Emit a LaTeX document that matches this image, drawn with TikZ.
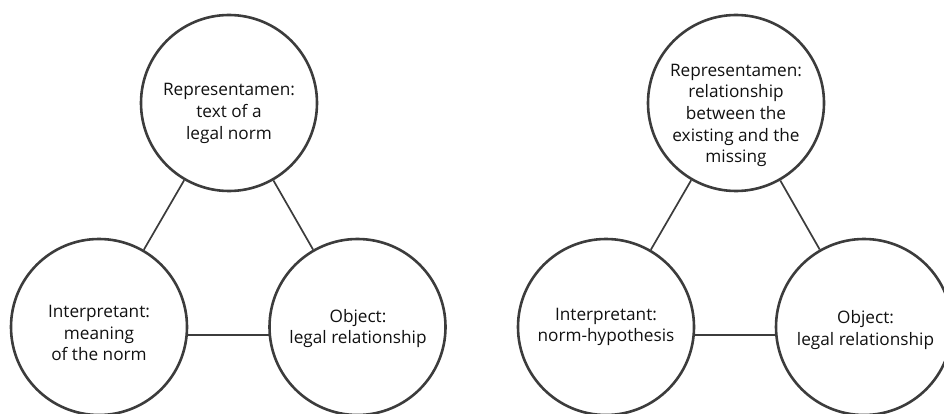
\documentclass[tikz,border=0pt]{standalone}
\usepackage{fontspec}
\setmainfont{Open Sans}
\begin{document}
\begin{tikzpicture}[x=1pt,y=-1pt,
  circ/.style={circle,draw=ringgray,line width=2.6pt,minimum size=176pt,inner sep=0pt},
  lbl/.style={align=center,inner sep=0pt,text=textgray,font=\fontsize{17.2pt}{21.6pt}\selectfont},
  link/.style={draw=ringgray,line width=1.7pt}]
\definecolor{ringgray}{HTML}{3C3C3C}
\definecolor{textgray}{HTML}{111111}
\useasboundingbox (0,0) rectangle (944,414);
% left diagram
\node[circ] (rA) at (229,103) {};
\node[circ] (iA) at (99,327) {};
\node[circ] (oA) at (357.5,327) {};
\node[lbl] (rAt) at (229,113.4) {Representamen:\\text of a\\legal norm};
\node[lbl] (iAt) at (99,333.3) {Interpretant:\\meaning\\of the norm};
\node[lbl] (oAt) at (358,328.5) {Object:\\legal relationship};
\draw[link] (rA) -- (iA);
\draw[link] (rA) -- (oA);
\draw[link] (iA.-5.2) -- (oA.185.2);
% right diagram
\node[circ] (rB) at (736,103) {};
\node[circ] (iB) at (606,327) {};
\node[circ] (oB) at (864,327) {};
\node[lbl] (rBt) at (736,115.4) {Representamen:\\relationship\\between the\\existing and the\\missing};
\node[lbl] (iBt) at (606,327) {Interpretant:\\norm-hypothesis};
\node[lbl] (oBt) at (865.5,330) {Object:\\legal relationship};
\draw[link] (rB) -- (iB);
\draw[link] (rB) -- (oB);
\draw[link] (iB.-5.2) -- (oB.185.2);
\end{tikzpicture}
\end{document}
